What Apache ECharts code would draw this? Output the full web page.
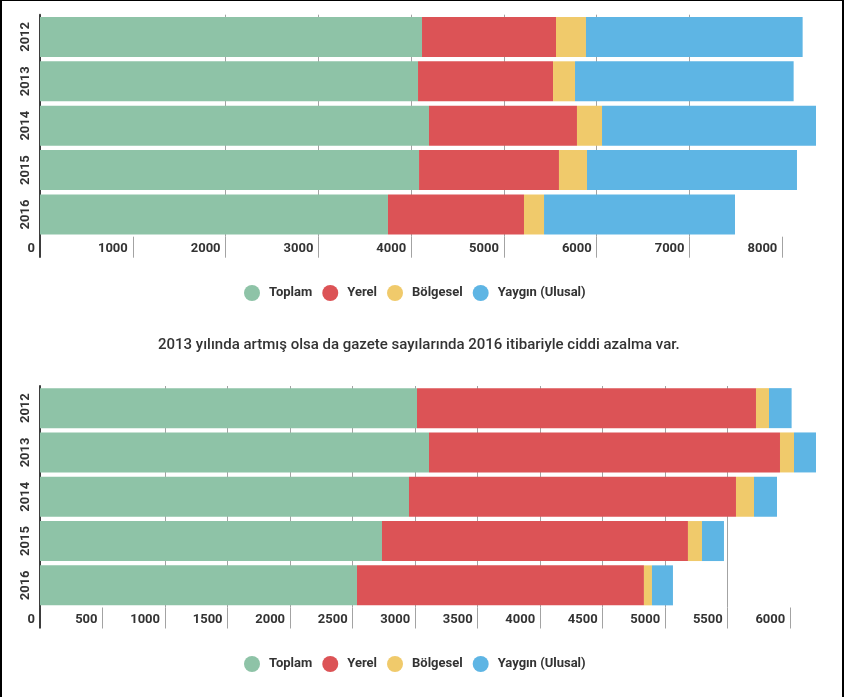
<!DOCTYPE html>
<html>
<head>
<meta charset="utf-8">
<script src="https://cdn.jsdelivr.net/npm/echarts@6/dist/echarts.min.js"></script>
<style>
  html, body { margin: 0; padding: 0; background: #fff; }
  #frame { width: 844px; height: 697px; box-sizing: border-box; border-top: 1px solid #000; border-left: 2px solid #000; border-right: 2px solid #000; position: relative; overflow: hidden; }
  #chart { position: absolute; left: -2px; top: -1px; width: 844px; height: 697px; }
</style>
</head>
<body>
<div id="frame"><div id="chart"></div></div>
<script>
// ---- data ----
const years = ['2012', '2013', '2014', '2015', '2016'];
const seriesNames = ['Toplam', 'Yerel', 'Bölgesel', 'Yaygın (Ulusal)'];
const colors = ['#8EC3A7', '#DC5356', '#F0CA6B', '#5EB5E4'];

// upper chart
const topToplam   = [4117, 4074, 4192, 4085, 3750];
const topYerel    = [1444, 1455, 1595, 1508, 1466];
const topBolgesel = [323, 237, 270, 302, 216];
const topYaygin   = [2335, 2356, 2306, 2263, 2058];
const topTicks    = [0, 1000, 2000, 3000, 4000, 5000, 6000, 7000, 8000];

// lower chart (gazete)
const botToplam   = [3015, 3111, 2951, 2735, 2535];
const botYerel    = [2711, 2807, 2615, 2447, 2295];
const botBolgesel = [104, 112, 144, 112, 64];
const botYaygin   = [181, 176, 184, 176, 168];
const botTicks    = [0, 500, 1000, 1500, 2000, 2500, 3000, 3500, 4000, 4500, 5000, 5500, 6000];

const subtitle = '2013 yılında artmış olsa da gazete sayılarında 2016 itibariyle ciddi azalma var.';

// ---- chart ----
const FONT = 'Roboto, "Noto Sans", sans-serif';
const chart = echarts.init(document.getElementById('chart'), null, { renderer: 'canvas' });

function mainX(gridIndex, interval, ticks) {
  return {
    type: 'value', gridIndex: gridIndex, min: 0, max: 'dataMax', interval: interval,
    axisLine: { show: false },
    axisTick: { show: true, length: 21, customValues: ticks.slice(1), lineStyle: { color: '#a3a3a3', width: 1 } },
    splitLine: { show: true, showMinLine: false, showMaxLine: false, lineStyle: { color: '#a3a3a3', width: 1 } },
    axisLabel: {
      customValues: ticks, align: 'right', margin: 6, padding: [0, 5, 0, 0],
      formatter: v => String(v),
      color: '#333', fontFamily: FONT, fontWeight: 'bold', fontSize: 13
    }
  };
}
function zeroX(gridIndex) {
  return {
    type: 'value', gridIndex: gridIndex, min: 0, max: 1, position: 'bottom',
    axisLine: { show: false }, splitLine: { show: false }, axisLabel: { show: false },
    axisTick: { show: true, length: 21, customValues: [0], lineStyle: { color: '#3d3d3d', width: 2 } }
  };
}
function catY(gridIndex) {
  return {
    type: 'category', gridIndex: gridIndex, data: years, inverse: true,
    axisLine: { show: true, lineStyle: { color: '#3d3d3d', width: 2 } },
    axisTick: { show: false },
    axisLabel: { rotate: 90, margin: 8, color: '#333', fontFamily: FONT, fontWeight: 'bold', fontSize: 13 }
  };
}
function stackSeries(arrs, xIdx, yIdx, stack) {
  return arrs.map((d, i) => ({
    name: seriesNames[i], type: 'bar', stack: stack, data: d,
    xAxisIndex: xIdx, yAxisIndex: yIdx, barWidth: 40,
    itemStyle: { color: colors[i] }, emphasis: { disabled: true }
  }));
}
function legend(top) {
  return {
    top: top, left: 239, icon: 'circle', itemWidth: 16, itemHeight: 16, itemGap: 10,
    data: seriesNames,
    textStyle: { color: '#333', fontFamily: FONT, fontWeight: 'bold', fontSize: 13, padding: [0, 0, 0, 4] }
  };
}

chart.setOption({
  animation: false,
  color: colors,
  title: {
    text: subtitle, left: 153, top: 333,
    textStyle: { color: '#333', fontFamily: FONT, fontWeight: 500, fontSize: 15 }
  },
  legend: [legend(280), legend(651)],
  grid: [
    { left: 40, width: 776, top: 14.7, height: 222 },
    { left: 40, width: 776, top: 386, height: 221.5 }
  ],
  xAxis: [mainX(0, 1000, topTicks), zeroX(0), mainX(1, 500, botTicks), zeroX(1)],
  yAxis: [catY(0), catY(1)],
  series: [].concat(
    stackSeries([topToplam, topYerel, topBolgesel, topYaygin], 0, 0, 'top'),
    stackSeries([botToplam, botYerel, botBolgesel, botYaygin], 2, 1, 'bot')
  )
});
</script>
</body>
</html>
